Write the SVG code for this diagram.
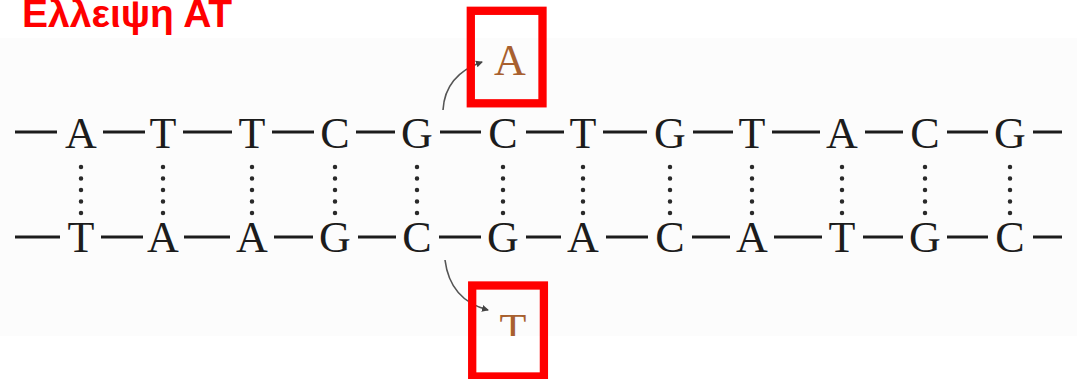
<svg xmlns="http://www.w3.org/2000/svg" width="1077" height="379" viewBox="0 0 1077 379">
<style>
.b{font-family:"Liberation Serif","Times New Roman",serif;font-size:44px;fill:#1c1c1c;text-anchor:middle}
.m{font-family:"Liberation Serif","Times New Roman",serif;font-size:44px;fill:#a8602f;text-anchor:middle}
.d{stroke:#1c1c1c;stroke-width:3}
.h{stroke:#2a2a2a;stroke-width:4.5;stroke-linecap:round;stroke-dasharray:0 11.5;fill:none}
.c{stroke:#555;stroke-width:1.6;fill:none}
.box{fill:none;stroke:#ff0000;stroke-width:8.3}
.title{font-family:"Liberation Sans",Arial,sans-serif;font-weight:bold;font-size:39px;fill:#ff0000}
</style>
<defs>
<marker id="ah" markerWidth="8" markerHeight="8" refX="6" refY="4" orient="auto" markerUnits="userSpaceOnUse">
<path d="M0,0.5 L7,4 L0,7.5 z" fill="#444"/>
</marker>
<clipPath id="clipT"><rect x="0" y="0" width="1077" height="336"/></clipPath>
</defs>
<rect x="0" y="0" width="1077" height="379" fill="#ffffff"/>
<rect x="0" y="38" width="1077" height="298" fill="#fcfcfc"/>
<text class="title" x="22" y="27">Ελλειψη ΑΤ</text>
<g id="connectors">
<g id="top-backbone">
<line class="d" x1="15" y1="132" x2="57" y2="132"/>
<line class="d" x1="103" y1="132" x2="145" y2="132"/>
<line class="d" x1="183" y1="132" x2="232" y2="132"/>
<line class="d" x1="272" y1="132" x2="314" y2="132"/>
<line class="d" x1="356" y1="132" x2="395" y2="132"/>
<line class="d" x1="440" y1="132" x2="481" y2="132"/>
<line class="d" x1="526" y1="132" x2="564" y2="132"/>
<line class="d" x1="603" y1="132" x2="647" y2="132"/>
<line class="d" x1="693" y1="132" x2="733" y2="132"/>
<line class="d" x1="772" y1="132" x2="820" y2="132"/>
<line class="d" x1="865" y1="132" x2="903" y2="132"/>
<line class="d" x1="947" y1="132" x2="988" y2="132"/>
<line class="d" x1="1033" y1="132" x2="1062" y2="132"/>
</g>
<g id="bottom-backbone">
<line class="d" x1="15" y1="237" x2="60" y2="237"/>
<line class="d" x1="101" y1="237" x2="143" y2="237"/>
<line class="d" x1="184" y1="237" x2="230" y2="237"/>
<line class="d" x1="274" y1="237" x2="313" y2="237"/>
<line class="d" x1="358" y1="237" x2="396" y2="237"/>
<line class="d" x1="439" y1="237" x2="481" y2="237"/>
<line class="d" x1="526" y1="237" x2="561" y2="237"/>
<line class="d" x1="606" y1="237" x2="648" y2="237"/>
<line class="d" x1="692" y1="237" x2="730" y2="237"/>
<line class="d" x1="774" y1="237" x2="822" y2="237"/>
<line class="d" x1="863" y1="237" x2="903" y2="237"/>
<line class="d" x1="947" y1="237" x2="988" y2="237"/>
<line class="d" x1="1033" y1="237" x2="1062" y2="237"/>
</g>
<g id="hbonds">
<line class="h" x1="81" y1="167" x2="81" y2="215"/>
<line class="h" x1="163" y1="167" x2="163" y2="215"/>
<line class="h" x1="252" y1="167" x2="252" y2="215"/>
<line class="h" x1="335" y1="167" x2="335" y2="215"/>
<line class="h" x1="417" y1="167" x2="417" y2="215"/>
<line class="h" x1="503" y1="167" x2="503" y2="215"/>
<line class="h" x1="583" y1="167" x2="583" y2="215"/>
<line class="h" x1="670" y1="167" x2="670" y2="215"/>
<line class="h" x1="752" y1="167" x2="752" y2="215"/>
<line class="h" x1="842" y1="167" x2="842" y2="215"/>
<line class="h" x1="925" y1="167" x2="925" y2="215"/>
<line class="h" x1="1010" y1="167" x2="1010" y2="215"/>
</g>
<path class="c" d="M443,110 Q445,75 482,62" marker-end="url(#ah)"/>
<path class="c" d="M445,260 Q450,300 488,310" marker-end="url(#ah)"/>
</g>
<g id="top-strand">
<text class="b" x="81" y="148">A</text>
<text class="b" x="163" y="148">T</text>
<text class="b" x="252" y="148">T</text>
<text class="b" x="335" y="148">C</text>
<text class="b" x="417" y="148">G</text>
<text class="b" x="503" y="148">C</text>
<text class="b" x="583" y="148">T</text>
<text class="b" x="670" y="148">G</text>
<text class="b" x="752" y="148">T</text>
<text class="b" x="842" y="148">A</text>
<text class="b" x="925" y="148">C</text>
<text class="b" x="1010" y="148">G</text>
</g>
<g id="bottom-strand">
<text class="b" x="81" y="252">T</text>
<text class="b" x="163" y="252">A</text>
<text class="b" x="252" y="252">A</text>
<text class="b" x="335" y="252">G</text>
<text class="b" x="417" y="252">C</text>
<text class="b" x="503" y="252">G</text>
<text class="b" x="583" y="252">A</text>
<text class="b" x="670" y="252">C</text>
<text class="b" x="752" y="252">A</text>
<text class="b" x="842" y="252">T</text>
<text class="b" x="925" y="252">G</text>
<text class="b" x="1010" y="252">C</text>
</g>
<g id="node-A">
<rect class="box" x="470.8" y="10.8" width="71.7" height="92.5"/>
<text class="m" x="510" y="75">A</text>
</g>
<g id="node-T">
<rect class="box" x="472.2" y="285.5" width="71.7" height="91"/>
<text class="m" x="513" y="344" clip-path="url(#clipT)">T</text>
</g>
</svg>
